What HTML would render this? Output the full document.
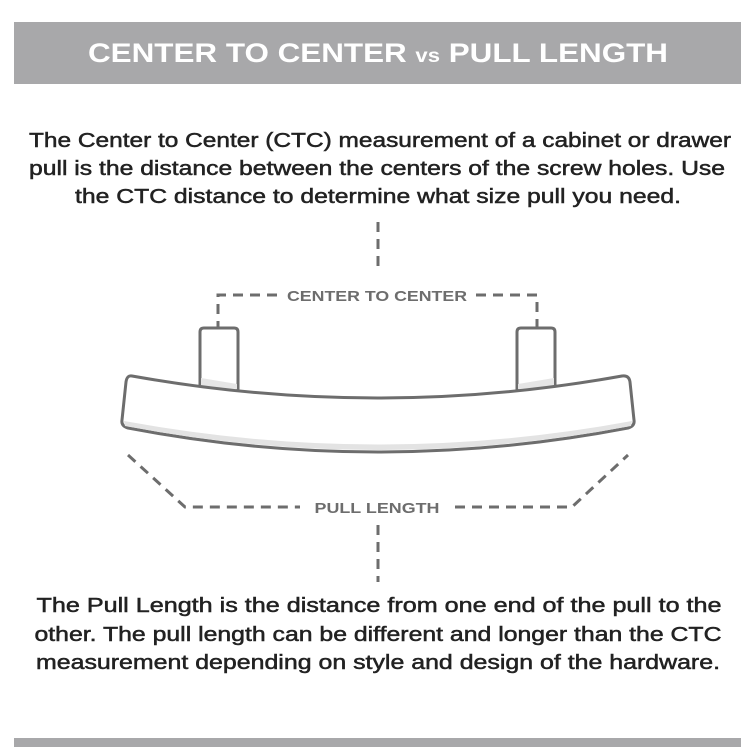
<!DOCTYPE html>
<html><head><meta charset="utf-8"><style>
html,body{margin:0;padding:0;background:#fff;width:755px;height:755px;overflow:hidden}
svg{display:block}
</style></head><body>
<svg width="755" height="755" viewBox="0 0 755 755" xmlns="http://www.w3.org/2000/svg">
<rect x="14" y="22" width="727" height="62" fill="#a8a8aa"/>
<text x="378" y="62" text-anchor="middle" font-family="Liberation Sans, sans-serif" font-weight="bold" font-size="27" fill="#fff" textLength="580" lengthAdjust="spacingAndGlyphs">CENTER TO CENTER <tspan font-size="19">vs</tspan> PULL LENGTH</text>
<g font-family="Liberation Sans, sans-serif" font-size="20" fill="#222" stroke="#222" stroke-width="0.5" text-anchor="middle">
<text x="380" y="147" textLength="702" lengthAdjust="spacingAndGlyphs">The Center to Center (CTC) measurement of a cabinet or drawer</text>
<text x="377" y="175" textLength="696" lengthAdjust="spacingAndGlyphs">pull is the distance between the centers of the screw holes. Use</text>
<text x="378" y="203" textLength="606" lengthAdjust="spacingAndGlyphs">the CTC distance to determine what size pull you need.</text>
<text x="379" y="612" textLength="685" lengthAdjust="spacingAndGlyphs">The Pull Length is the distance from one end of the pull to the</text>
<text x="378" y="641" textLength="687" lengthAdjust="spacingAndGlyphs">other. The pull length can be different and longer than the CTC</text>
<text x="378" y="669" textLength="684" lengthAdjust="spacingAndGlyphs">measurement depending on style and design of the hardware.</text>
</g>
<g stroke="#6d6d6d" stroke-width="3" fill="none" stroke-dasharray="10 7">
<line x1="378" y1="222" x2="378" y2="272"/>
<polyline points="218,348 218,295 280,295"/>
<polyline points="476,295 537,295 537,350"/>
<polyline points="128,455 185,507 300,507"/>
<polyline points="455,507 572,507 628,455"/>
<line x1="378" y1="525" x2="378" y2="582"/>
</g>
<g font-family="Liberation Sans, sans-serif" font-weight="bold" font-size="15" fill="#6d6d6d" text-anchor="middle">
<text x="377" y="301" textLength="180" lengthAdjust="spacingAndGlyphs">CENTER TO CENTER</text>
<text x="377" y="513" textLength="125" lengthAdjust="spacingAndGlyphs">PULL LENGTH</text>
</g>
<g stroke="#6d6d6d" stroke-width="3" fill="#fff">
<path d="M200,385 L200,332 Q200,328 204,328 L234,328 Q238,328 238,332 L238,390"/>
<path d="M517,390 L517,332 Q517,328 521,328 L551,328 Q555,328 555,332 L555,385"/>
</g>
<path d="M201,378 L237,384 L237,389 L201,386Z M518,384 L554,378 L554,386 L518,389Z" fill="#e5e5e5"/>
<path d="M132,376 Q378,420 622,376 Q629,375 630,382 L634,420 Q635,426 628,428 Q378,476 128,428 Q121,426 122,420 L126,382 Q127,375 132,376Z" fill="#fff" stroke="#6d6d6d" stroke-width="3"/>
<path d="M124,421 Q378,468 632,421 L631,426 Q378,474 125,426Z" fill="#e3e3e3"/>
<rect x="14" y="738" width="727" height="9" fill="#a8a8aa"/>
</svg>
</body></html>
